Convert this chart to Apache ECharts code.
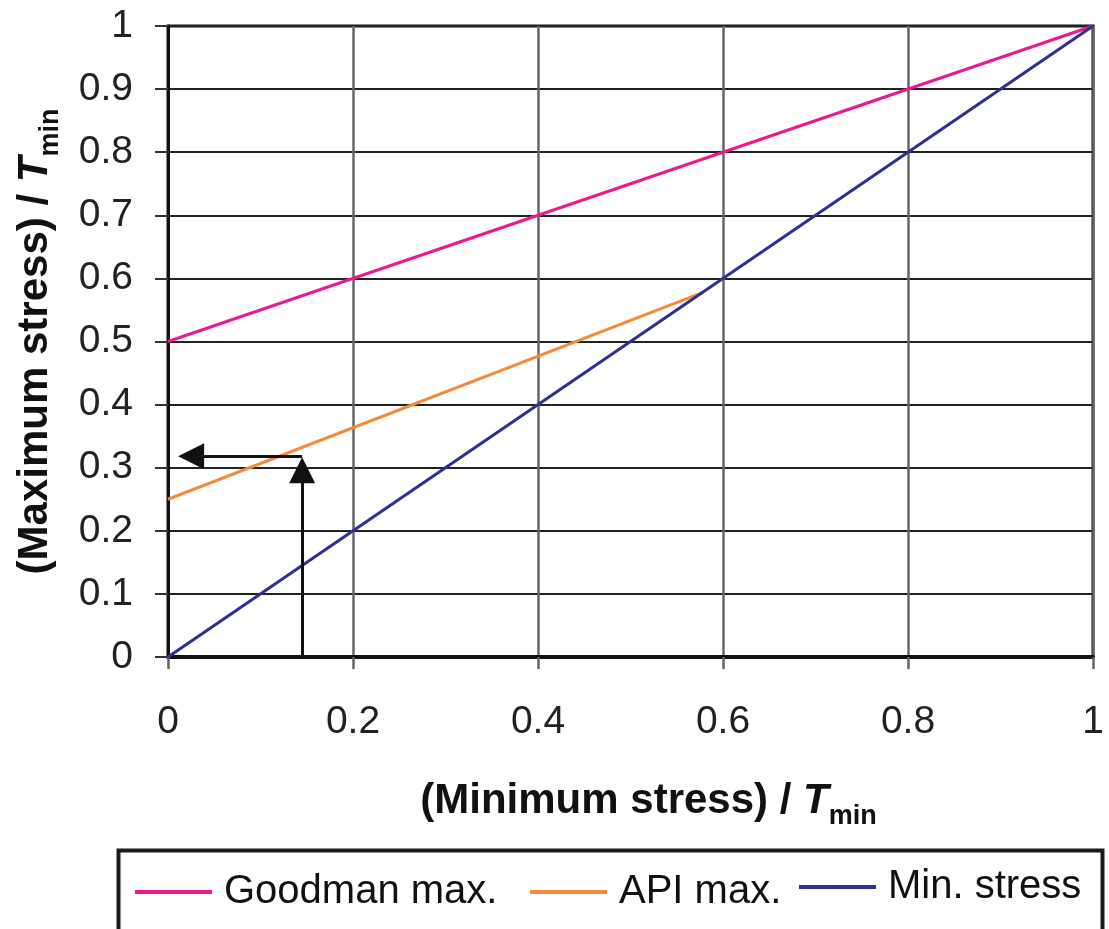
<!DOCTYPE html>
<html>
<head>
<meta charset="utf-8">
<script src="https://cdn.jsdelivr.net/npm/echarts@6/dist/echarts.min.js"></script>
<style>
  html, body { margin: 0; padding: 0; background: #fff; }
  #chart { width: 1109px; height: 929px; }
</style>
</head>
<body>
<div id="chart"></div>
<script>
// 数据
const seriesNames = ['Goodman max.', 'API max.', 'Min. stress'];
const goodmanX = [0, 1];
const goodmanY = [0.5, 1];
const apiX = [0, 0.577];
const apiY = [0.25, 0.577];
const minX = [0, 1];
const minY = [0, 1];
// 箭头：向上，再向左（端点为箭头中心）
const arrowUp = [[0.145, 0], [0.145, 0.296]];
const arrowLeft = [[0.145, 0.318], [0.025, 0.318]];

const colors = ['#ec1a8d', '#f68a3c', '#2e3192'];
const FONT = '"Liberation Sans", Arial, sans-serif';

function pairs(xs, ys) {
  return xs.map((x, i) => [x, ys[i]]);
}

const chart = echarts.init(document.getElementById('chart'));

// 标题富文本
const titleRich = {
  b: { fontFamily: FONT, fontWeight: 'bold', fontSize: 42, color: '#111', lineHeight: 58 },
  t: { fontFamily: FONT, fontWeight: 'bold', fontStyle: 'italic', fontSize: 42, color: '#111', lineHeight: 58 },
  s: { fontFamily: FONT, fontWeight: 'bold', fontSize: 27, color: '#111', lineHeight: 27, verticalAlign: 'bottom' }
};

const legendBase = {
  top: 871,
  itemWidth: 77,
  itemHeight: 4,
  padding: 0,
  lineStyle: { width: 4 },
  textStyle: { fontFamily: FONT, fontSize: 40, color: '#111', lineHeight: 42, padding: [0, 0, 0, 7] }
};

const option = {
  animation: false,
  backgroundColor: '#fff',
  grid: {
    left: 168, right: 16, top: 26, bottom: 272,
    show: true, borderColor: '#111', borderWidth: 3
  },
  xAxis: {
    type: 'value', min: 0, max: 1, interval: 0.2,
    name: '{b|(Minimum stress) / }{t|T}{s|min}',
    nameLocation: 'middle', nameGap: 115,
    nameTextStyle: { rich: titleRich, padding: [0, 0, 0, 36] },
    axisLine: { show: true, onZero: false, lineStyle: { color: '#111', width: 4 } },
    axisTick: { show: true, length: 12, lineStyle: { color: '#666', width: 2.5 } },
    axisLabel: { margin: 46, fontFamily: FONT, fontSize: 39, color: '#222' },
    splitLine: { show: true, lineStyle: { color: '#666', width: 2.5 } }
  },
  yAxis: {
    type: 'value', min: 0, max: 1, interval: 0.1,
    name: '{b|(Maximum stress) / }{t|T}{s|min}',
    nameLocation: 'middle', nameGap: 104, nameRotate: 90,
    nameTextStyle: { rich: titleRich },
    axisLine: { show: true, onZero: false, lineStyle: { color: '#111', width: 3 } },
    axisTick: { show: true, length: 13, lineStyle: { color: '#333', width: 2 } },
    axisLabel: { margin: 35, fontFamily: FONT, fontSize: 39, color: '#222' },
    splitLine: { show: true, lineStyle: { color: '#222', width: 2 } }
  },
  legend: [
    Object.assign({}, legendBase, { left: 133, data: [seriesNames[0]] }),
    Object.assign({}, legendBase, { left: 528, data: [seriesNames[1]] }),
    Object.assign({}, legendBase, { left: 797, top: 866, data: [seriesNames[2]] })
  ],
  graphic: [{
    type: 'rect', left: 116, top: 848, z: -1,
    shape: { width: 984, height: 120 },
    style: { fill: 'none', stroke: '#1a1a1a', lineWidth: 4 }
  }],
  series: [
    {
      name: seriesNames[0], type: 'line', data: pairs(goodmanX, goodmanY),
      symbol: 'none', lineStyle: { color: colors[0], width: 3 }, itemStyle: { color: colors[0] }
    },
    {
      name: seriesNames[1], type: 'line', data: pairs(apiX, apiY),
      symbol: 'none', lineStyle: { color: colors[1], width: 3 }, itemStyle: { color: colors[1] }
    },
    {
      name: seriesNames[2], type: 'line', data: pairs(minX, minY),
      symbol: 'none', lineStyle: { color: colors[2], width: 3 }, itemStyle: { color: colors[2] }
    },
    {
      name: 'arrows', type: 'lines', coordinateSystem: 'cartesian2d',
      symbol: ['none', 'triangle'], symbolSize: [24, 26],
      lineStyle: { color: '#111', width: 3, opacity: 1 },
      itemStyle: { color: '#111' },
      data: [{ coords: arrowUp }, { coords: arrowLeft }],
      z: 5
    }
  ]
};

chart.setOption(option);
</script>
</body>
</html>
